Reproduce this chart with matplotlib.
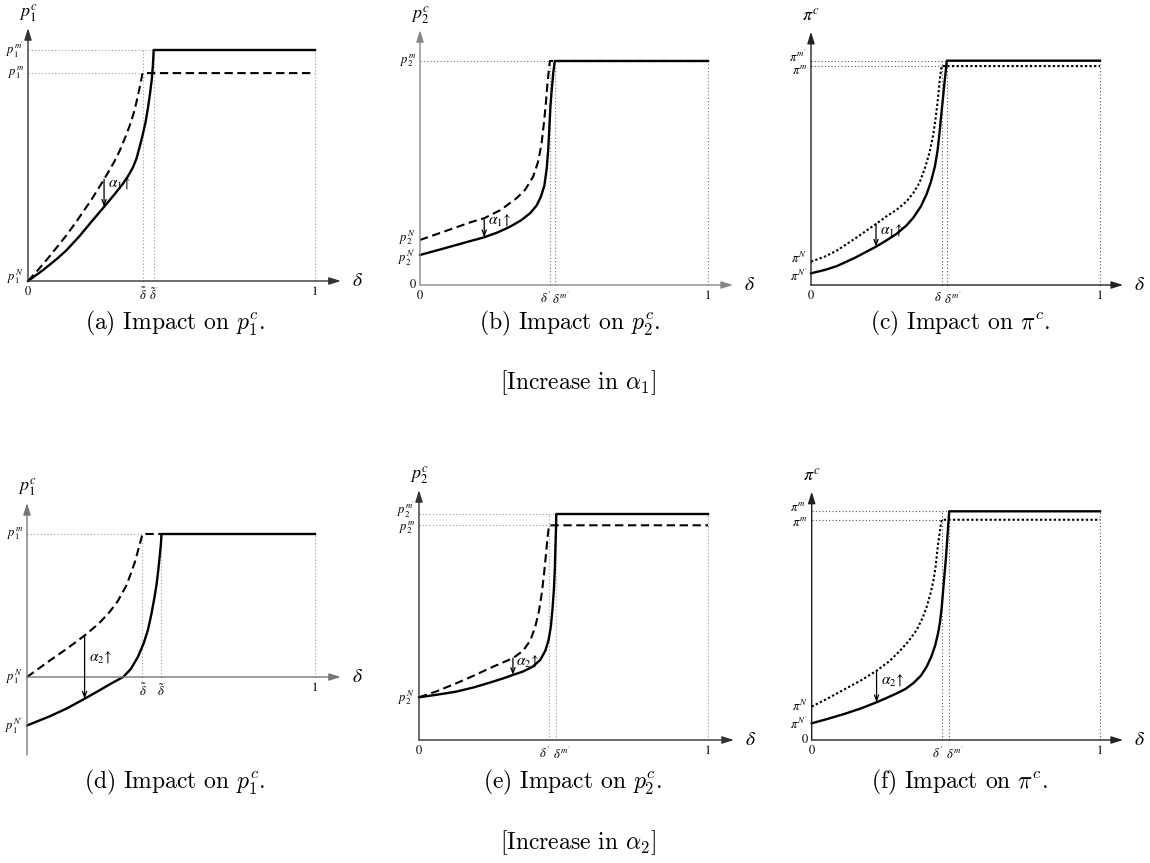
import matplotlib
matplotlib.use('Agg')
import matplotlib.pyplot as plt

plt.rcParams['mathtext.fontset'] = 'stix'
plt.rcParams['font.family'] = ['STIXGeneral', 'DejaVu Serif']

W, H = 1150, 863

# ---- (a) increase in alpha1, effect on p1 ----
a_dash_x = [0, 0.04, 0.076, 0.134, 0.169, 0.22, 0.265, 0.30, 0.32, 0.34, 0.355, 0.368,
            0.378, 0.386, 0.392, 0.396, 0.399, 1.0]
a_dash_y = [0, 0.055, 0.108, 0.198, 0.258, 0.35, 0.44, 0.515, 0.565, 0.625, 0.675, 0.725,
            0.775, 0.82, 0.855, 0.88, 0.90, 0.90]
a_sol_x = [0, 0.05, 0.10, 0.134, 0.18, 0.22, 0.265, 0.30, 0.33, 0.349, 0.365, 0.378, 0.39,
           0.40, 0.41, 0.418, 0.425, 0.431, 0.435, 0.438, 1.0]
a_sol_y = [0, 0.045, 0.095, 0.133, 0.195, 0.255, 0.321, 0.373, 0.42, 0.455, 0.49, 0.53, 0.585,
           0.635, 0.69, 0.75, 0.81, 0.87, 0.93, 1.0, 1.0]
a_levels = [1.0, 0.90]
a_ylabels = [r"$p_1^{m'}$", r"$p_1^{m}$"]
a_xticks = [0.399, 0.438]
a_xlabels = [r"$\tilde{\delta}$", r"$\tilde{\delta}^{'}$"]
a_arrow = (0.265, 0.44, 0.321)

# ---- (b) increase in alpha1, effect on p2 ----
b_dash_x = [0, 0.06, 0.127, 0.18, 0.223, 0.28, 0.335, 0.365, 0.393, 0.41, 0.422, 0.43,
            0.437, 0.442, 0.447, 0.451, 1.0]
b_dash_y = [0.201, 0.228, 0.258, 0.282, 0.298, 0.335, 0.387, 0.425, 0.484, 0.55, 0.63, 0.72,
            0.81, 0.89, 0.955, 1.0, 1.0]
b_sol_x = [0, 0.06, 0.127, 0.18, 0.223, 0.27, 0.312, 0.35, 0.382, 0.405, 0.42, 0.432, 0.44,
           0.445, 0.449, 0.453, 0.458, 0.463, 0.468, 1.0]
b_sol_y = [0.134, 0.155, 0.179, 0.198, 0.213, 0.235, 0.26, 0.288, 0.32, 0.355, 0.395, 0.445,
           0.52, 0.60, 0.70, 0.80, 0.88, 0.95, 1.0, 1.0]
b_levels = [1.0]
b_ylabels = [r"$p_2^{m}$"]
b_xticks = [0.451, 0.468]
b_xlabels = [r"$\delta'$", r"$\delta^{m'}$"]
b_arrow = (0.223, 0.298, 0.213)

# ---- (c) increase in alpha1, effect on pi ----
c_dot_x = [0, 0.05, 0.089, 0.15, 0.225, 0.26, 0.296, 0.33, 0.354, 0.375, 0.394, 0.41, 0.423,
           0.432, 0.44, 0.446, 0.452, 1.0]
c_dot_y = [0.104, 0.128, 0.153, 0.205, 0.272, 0.305, 0.335, 0.372, 0.41, 0.455, 0.52, 0.59,
           0.67, 0.75, 0.84, 0.92, 0.976, 0.976]
c_sol_x = [0, 0.05, 0.089, 0.15, 0.225, 0.26, 0.296, 0.33, 0.354, 0.38, 0.40, 0.415, 0.429,
           0.438, 0.444, 0.45, 0.456, 0.461, 0.466, 0.470, 1.0]
c_sol_y = [0.052, 0.068, 0.084, 0.12, 0.171, 0.198, 0.228, 0.265, 0.30, 0.35, 0.405, 0.46,
           0.53, 0.60, 0.67, 0.75, 0.825, 0.89, 0.95, 1.0, 1.0]
c_levels = [1.0, 0.976]
c_ylabels = [r"$\pi^{m'}$", r"$\pi^{m}$"]
c_xticks = [0.452, 0.470]
c_xlabels = [r"$\delta$", r"$\delta^{m'}$"]
c_arrow = (0.225, 0.272, 0.171)

# ---- (d) increase in alpha2, effect on p1 ----
d_dash_x = [0, 0.04, 0.079, 0.14, 0.20, 0.25, 0.287, 0.315, 0.345, 0.36, 0.374, 0.385,
            0.393, 0.401, 0.467]
d_dash_y = [0, 0.058, 0.115, 0.20, 0.29, 0.375, 0.455, 0.53, 0.64, 0.72, 0.80, 0.88,
            0.94, 1.0, 1.0]
d_sol_x = [0, 0.079, 0.14, 0.20, 0.25, 0.29, 0.334, 0.36, 0.385, 0.405, 0.42, 0.432, 0.442,
           0.45, 0.456, 0.461, 0.465, 0.467, 1.0]
d_sol_y = [-0.339, -0.275, -0.218, -0.152, -0.095, -0.048, 0.0, 0.055, 0.14, 0.235, 0.33,
           0.44, 0.55, 0.65, 0.75, 0.85, 0.93, 1.0, 1.0]
d_levels = [1.0]
d_ylabels = [r"$p_1^{m}$"]
d_xticks = [0.401, 0.467]
d_xlabels = [r"$\tilde{\delta}$", r"$\tilde{\delta}^{'}$"]
d_arrow = (0.200, 0.29, -0.152)

# ---- (e) increase in alpha2, effect on p2 ----
e_dash_x = [0, 0.06, 0.129, 0.19, 0.245, 0.29, 0.325, 0.36, 0.385, 0.402, 0.415, 0.425,
            0.433, 0.44, 0.445, 0.450, 1.0]
e_dash_y = [0.189, 0.215, 0.251, 0.285, 0.318, 0.343, 0.362, 0.395, 0.44, 0.50, 0.57, 0.65,
            0.74, 0.83, 0.90, 0.950, 0.950]
e_sol_x = [0, 0.06, 0.129, 0.19, 0.245, 0.29, 0.325, 0.36, 0.394, 0.42, 0.437, 0.448, 0.456,
           0.462, 0.467, 0.47, 0.472, 0.474, 0.475, 1.0]
e_sol_y = [0.189, 0.20, 0.214, 0.233, 0.254, 0.272, 0.288, 0.303, 0.325, 0.355, 0.395, 0.44,
           0.50, 0.58, 0.67, 0.76, 0.85, 0.93, 1.0, 1.0]
e_levels = [1.0, 0.950]
e_ylabels = [r"$p_2^{m'}$", r"$p_2^{m}$"]
e_xticks = [0.450, 0.475]
e_xlabels = [r"$\delta'$", r"$\delta^{m'}$"]
e_arrow = (0.325, 0.362, 0.288)

# ---- (f) increase in alpha2, effect on pi ----
f_dot_x = [0, 0.05, 0.11, 0.17, 0.225, 0.27, 0.306, 0.336, 0.364, 0.385, 0.399, 0.412,
           0.422, 0.43, 0.436, 0.442, 0.447, 0.451, 1.0]
f_dot_y = [0.146, 0.178, 0.219, 0.26, 0.303, 0.345, 0.39, 0.432, 0.481, 0.535, 0.583, 0.64,
           0.695, 0.76, 0.83, 0.89, 0.935, 0.963, 0.963]
f_sol_x = [0, 0.06, 0.121, 0.175, 0.225, 0.26, 0.295, 0.325, 0.352, 0.378, 0.399, 0.415,
           0.428, 0.438, 0.445, 0.451, 0.456, 0.461, 0.466, 0.47, 0.474, 0.477, 1.0]
f_sol_y = [0.073, 0.094, 0.117, 0.14, 0.165, 0.184, 0.204, 0.223, 0.248, 0.28, 0.321, 0.365,
           0.412, 0.465, 0.515, 0.58, 0.656, 0.73, 0.802, 0.875, 0.948, 1.0, 1.0]
f_levels = [1.0, 0.963]
f_ylabels = [r"$\pi^{m'}$", r"$\pi^{m}$"]
f_xticks = [0.451, 0.477]
f_xlabels = [r"$\delta'$", r"$\delta^{m'}$"]
f_arrow = (0.225, 0.303, 0.165)

fig = plt.figure(figsize=(W / 100, H / 100), dpi=100)


def make_panel(x0, y0, xu, yu, ylo, yhi):
    xlo, xhi = -0.12, 1.25
    left = (x0 + xlo * xu) / W
    bottom = 1 - (y0 - ylo * yu) / H
    ax = fig.add_axes([left, bottom, (xhi - xlo) * xu / W, (yhi - ylo) * yu / H])
    ax.set_xlim(xlo, xhi)
    ax.set_ylim(ylo, yhi)
    ax.axis('off')
    return ax


def draw_axes(ax, ybot, ytop, name, axcol='#333333', xend=1.09):
    ap = dict(arrowstyle='-|>,head_length=0.7,head_width=0.22', color=axcol,
              lw=1.0, shrinkA=0, shrinkB=0)
    ax.annotate('', xy=(0, ytop), xytext=(0, ybot), arrowprops=ap)
    ax.annotate('', xy=(xend, 0), xytext=(0, 0), arrowprops=ap)
    ax.annotate(name, xy=(0, ytop), xytext=(0, 11), textcoords='offset points',
                ha='center', va='center', fontsize=13)
    ax.annotate(r'$\delta$', xy=(xend, 0), xytext=(8, 0), textcoords='offset points',
                ha='left', va='center', fontsize=14)


def ylab(ax, y, s, dy=0):
    ax.annotate(s, xy=(0, y), xytext=(-3, dy), textcoords='offset points',
                ha='right', va='center', fontsize=9)


def xlab(ax, x, s, y=0, dx=0):
    ax.annotate(s, xy=(x, y), xytext=(dx, -4), textcoords='offset points',
                ha='center', va='top', fontsize=9)


def guides(ax, levels, ends, vx, vtop, col='#888888'):
    for lv, e in zip(levels, ends):
        ax.plot([0, e], [lv, lv], color=col, lw=0.8, ls=(0, (1, 2)), clip_on=False)
    for x in vx:
        ax.plot([x, x], [0, vtop], color=col, lw=0.8, ls=(0, (1, 2)), clip_on=False)


def curves(ax, x1, y1, x2, y2, style):
    ax.plot(x1, y1, color='k', lw=1.5, ls=style, clip_on=False)
    ax.plot(x2, y2, color='k', lw=1.7, clip_on=False)


def shift_arrow(ax, arr, text, tx, ty):
    x, ytop, ybot = arr
    ax.annotate('', xy=(x, ybot), xytext=(x, ytop),
                arrowprops=dict(arrowstyle='->,head_length=0.4,head_width=0.15',
                                color='k', lw=0.9, shrinkA=0, shrinkB=0))
    ax.text(tx, ty, text, fontsize=11, ha='left', va='center')


DASH = (0, (4, 2.2))
DOT = (0, (1.1, 1.1))

# (a)
ax = make_panel(28, 281, 287, 231, -0.15, 1.25)
guides(ax, a_levels, [a_sol_x[-2], a_dash_x[-2]], a_xticks + [1.0], 1.0, '#999999')
curves(ax, a_dash_x, a_dash_y, a_sol_x, a_sol_y, DASH)
draw_axes(ax, 0, 1.095, r'$p_1^c$')
for lv, s in zip(a_levels, a_ylabels):
    ylab(ax, lv, s)
ylab(ax, 0, r'$p_1^N$', dy=3)
xlab(ax, 0, '0')
xlab(ax, 1, '1')
for x, s in zip(a_xticks, a_xlabels):
    xlab(ax, x, s)
shift_arrow(ax, a_arrow, r'$\alpha_1\!\uparrow$', 0.28, 0.425)

# (b)
ax = make_panel(420, 285, 288, 224, -0.15, 1.25)
guides(ax, b_levels, [b_dash_x[-2]], b_xticks + [1.0], 1.0, '#777777')
curves(ax, b_dash_x, b_dash_y, b_sol_x, b_sol_y, DASH)
draw_axes(ax, 0, 1.138, r'$p_2^c$', axcol='#888888', xend=1.087)
for lv, s in zip(b_levels, b_ylabels):
    ylab(ax, lv, s)
ylab(ax, b_dash_y[0], r'$p_2^N$', dy=2)
ylab(ax, b_sol_y[0], r"$p_2^{N'}$", dy=-2)
ylab(ax, 0, '0')
xlab(ax, 0, '0')
xlab(ax, 1, '1')
xlab(ax, b_xticks[0], b_xlabels[0], dx=-3)
xlab(ax, b_xticks[1], b_xlabels[1], dx=4)
shift_arrow(ax, b_arrow, r'$\alpha_1\!\uparrow$', 0.235, 0.29)

# (c)
ax = make_panel(811, 285, 289, 224.3, -0.15, 1.25)
guides(ax, c_levels, [c_sol_x[-2], c_dot_x[-2]], c_xticks + [1.0], 1.0, '#555555')
curves(ax, c_dot_x, c_dot_y, c_sol_x, c_sol_y, DOT)
draw_axes(ax, 0, 1.129, r'$\pi^c$', axcol='#222222', xend=1.08)
ylab(ax, c_levels[0], c_ylabels[0], dy=3)
ylab(ax, c_levels[1], c_ylabels[1], dy=-3)
ylab(ax, c_dot_y[0], r'$\pi^N$', dy=2)
ylab(ax, c_sol_y[0], r"$\pi^{N'}$", dy=-2)
xlab(ax, 0, '0')
xlab(ax, 1, '1')
xlab(ax, c_xticks[0], c_xlabels[0], dx=-3)
xlab(ax, c_xticks[1], c_xlabels[1], dx=4)
shift_arrow(ax, c_arrow, r'$\alpha_1\!\uparrow$', 0.24, 0.245)

# (d)
ax = make_panel(27, 677, 288, 143, -0.6, 1.35)
guides(ax, d_levels, [d_dash_x[-2]], d_xticks + [1.0], 1.0, '#999999')
curves(ax, d_dash_x, d_dash_y, d_sol_x, d_sol_y, DASH)
draw_axes(ax, -0.545, 1.217, r'$p_1^c$', axcol='#777777')
for lv, s in zip(d_levels, d_ylabels):
    ylab(ax, lv, s)
ylab(ax, 0, r'$p_1^N$')
ylab(ax, d_sol_y[0], r"$p_1^{N'}$")
xlab(ax, 1, '1')
for x, s in zip(d_xticks, d_xlabels):
    xlab(ax, x, s)
shift_arrow(ax, d_arrow, r'$\alpha_2\!\uparrow$', 0.215, 0.14)

# (e)
ax = make_panel(419, 740, 289, 226, -0.15, 1.25)
guides(ax, e_levels, [e_sol_x[-2], e_dash_x[-2]], e_xticks + [1.0], 1.0, '#999999')
curves(ax, e_dash_x, e_dash_y, e_sol_x, e_sol_y, DASH)
draw_axes(ax, 0, 1.106, r'$p_2^c$')
ylab(ax, e_levels[0], e_ylabels[0], dy=3)
ylab(ax, e_levels[1], e_ylabels[1], dy=-2)
ylab(ax, e_dash_y[0], r'$p_2^N$')
xlab(ax, 0, '0')
xlab(ax, 1, '1')
xlab(ax, e_xticks[0], e_xlabels[0], dx=-3)
xlab(ax, e_xticks[1], e_xlabels[1], dx=4)
shift_arrow(ax, e_arrow, r'$\alpha_2\!\uparrow$', 0.335, 0.35)

# (f)
ax = make_panel(811.7, 740, 288.3, 228.7, -0.15, 1.25)
guides(ax, f_levels, [f_sol_x[-2], f_dot_x[-2]], f_xticks + [1.0], 1.0, '#555555')
curves(ax, f_dot_x, f_dot_y, f_sol_x, f_sol_y, DOT)
draw_axes(ax, 0, 1.086, r'$\pi^c$', axcol='#222222', xend=1.08)
ylab(ax, f_levels[0], f_ylabels[0], dy=3)
ylab(ax, f_levels[1], f_ylabels[1], dy=-2)
ylab(ax, f_dot_y[0], r'$\pi^N$')
ylab(ax, f_sol_y[0], r"$\pi^{N'}$")
ylab(ax, 0, '0')
xlab(ax, 0, '0')
xlab(ax, 1, '1')
xlab(ax, f_xticks[0], f_xlabels[0], dx=-3)
xlab(ax, f_xticks[1], f_xlabels[1], dx=4)
shift_arrow(ax, f_arrow, r'$\alpha_2\!\uparrow$', 0.24, 0.26)

# captions
cap = dict(fontsize=17, family='cmr10', math_fontfamily='cm', ha='center', va='center')
fig.text(175 / W, 1 - 323 / H, r'(a) Impact on $p_1^c$.', **cap)
fig.text(570 / W, 1 - 323 / H, r'(b) Impact on $p_2^c$.', **cap)
fig.text(960 / W, 1 - 323 / H, r'(c) Impact on $\pi^c$.', **cap)
fig.text(578 / W, 1 - 383 / H, r'[Increase in $\alpha_1$]', **cap)
fig.text(175 / W, 1 - 782 / H, r'(d) Impact on $p_1^c$.', **cap)
fig.text(572 / W, 1 - 782 / H, r'(e) Impact on $p_2^c$.', **cap)
fig.text(960 / W, 1 - 782 / H, r'(f) Impact on $\pi^c$.', **cap)
fig.text(578 / W, 1 - 843 / H, r'[Increase in $\alpha_2$]', **cap)

fig.savefig('out.png', dpi=100, facecolor='white')
